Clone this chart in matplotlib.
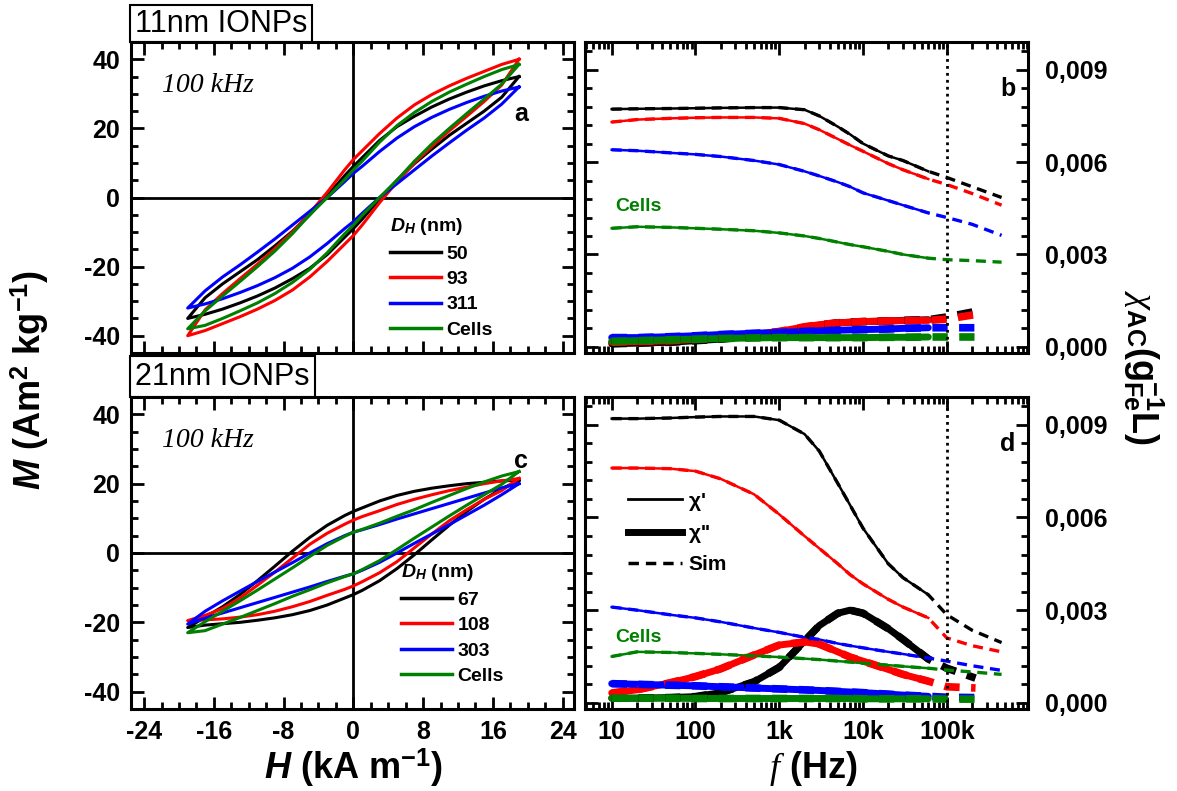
import numpy as np
import matplotlib
matplotlib.use("Agg")
import matplotlib.pyplot as plt
from matplotlib.ticker import FixedLocator, MultipleLocator, FuncFormatter, LogLocator, NullFormatter
from matplotlib.lines import Line2D
from matplotlib.patches import Rectangle

plt.rcParams["font.family"] = ["Liberation Sans", "DejaVu Sans"]
plt.rcParams["axes.unicode_minus"] = False
plt.rcParams["mathtext.fontset"] = "custom"
plt.rcParams["mathtext.rm"] = "Liberation Sans"
plt.rcParams["mathtext.bf"] = "Liberation Sans:bold"
plt.rcParams["mathtext.it"] = "Liberation Serif:italic"
plt.rcParams["mathtext.bfit"] = "Liberation Sans:italic:bold"
plt.rcParams["mathtext.sf"] = "Liberation Sans"

BLACK, RED, BLUE, GREEN = "black", "#ff0000", "#0000ff", "#008000"

# ---------------- hysteresis loops (H in kA/m, M in Am2/kg) ----------------
H_GRID = [19, 17, 15, 13, 11, 9, 7, 5, 3, 1, 0, -1, -3, -5, -7, -9, -11, -13, -15, -17, -19]

# 11 nm IONPs: upper (field going down) and lower (field going up) branches on H_GRID
a_labels = ["50", "93", "311", "Cells"]
a_black_up = [35, 33.8, 32.3, 30.5, 28.5, 26.2, 23.5, 20.5, 16.5, 11.5, 9, 6.3, 0.5, -5, -9.8,
              -14, -18, -21.5, -25, -29, -35]
a_black_lo = [35, 29, 25, 21.5, 18, 14, 9.8, 5, -0.5, -6.3, -9, -11.5, -16.5, -20.5, -23.5,
              -26.2, -28.5, -30.5, -32.3, -33.8, -35]
a_red_up = [40, 38.5, 36.5, 34.5, 32.3, 29.8, 26.8, 23, 18.5, 13.5, 11, 8, 1.5, -4.5, -10,
            -14.8, -19.3, -23.5, -27.8, -32.5, -40]
a_red_lo = [40, 32.5, 27.8, 23.5, 19.3, 14.8, 10, 4.5, -1.5, -8, -11, -13.5, -18.5, -23, -26.8,
            -29.8, -32.3, -34.5, -36.5, -38.5, -40]
a_blue_up = [32, 30.8, 29.3, 27.5, 25.5, 23.2, 20.5, 17.2, 13.3, 9, 7, 4.6, 0, -4, -8,
             -12, -15.8, -19.5, -23, -27, -32]
a_blue_lo = [32, 27, 23, 19.5, 15.8, 12, 8, 4, 0, -4.6, -7, -9, -13.3, -17.2, -20.5,
             -23.2, -25.5, -27.5, -29.3, -30.8, -32]
a_green_up = [38.5, 37, 35, 32.8, 30.5, 27.8, 24.6, 20.8, 16, 10.5, 8, 5.2, 0, -5, -10.5,
              -15.5, -20, -24.3, -28.5, -32.8, -38]
a_green_lo = [38.5, 32.8, 28.5, 24.3, 20, 15.5, 10.5, 5, 0, -5.2, -8, -10.5, -16, -20.8, -24.6,
              -27.8, -30.5, -32.8, -35, -37, -38]

# 21 nm IONPs
c_labels = ["67", "108", "303", "Cells"]
c_black_up = [21, 20.8, 20.4, 20, 19.4, 18.7, 17.8, 16.6, 15, 13, 12, 10.8, 8, 4.5, 0.5,
              -3.8, -8, -12, -15.5, -18.5, -21.5]
c_black_lo = [21, 18.5, 15.5, 12, 8, 3.8, -0.5, -4.5, -8, -10.8, -12, -13, -15, -16.6, -17.8,
              -18.7, -19.4, -20, -20.4, -20.8, -21.5]
c_red_up = [21.5, 20.8, 20, 19, 18, 16.8, 15.5, 14, 12.2, 10.5, 9.5, 8.3, 5.7, 2.5, -1.5,
            -5.5, -9.3, -13, -16, -18, -19.5]
c_red_lo = [21.5, 18, 15.5, 12.5, 9.3, 5.5, 1.5, -2.5, -5.7, -8.3, -9.5, -10.5, -12.2, -14,
            -15.5, -16.8, -17.8, -18.5, -19, -19.3, -19.5]
c_blue_up = [20, 18.8, 17.3, 15.8, 14.3, 12.8, 11.3, 9.8, 8.2, 6.7, 6, 5, 2.7, 0, -2.8,
             -5.5, -8.2, -11, -13.8, -16.8, -20.5]
c_blue_lo = [20, 16.8, 13.8, 11, 8.2, 5.5, 2.8, 0, -2.7, -5, -6, -6.7, -8.2, -9.8, -11.3,
             -12.8, -14.3, -15.8, -17.3, -18.8, -20.5]
c_green_up = [23.5, 22.2, 20.5, 18.6, 16.6, 14.6, 12.5, 10.6, 8.6, 6.8, 6, 4.8, 2.2, -1, -4.3,
              -7.5, -10.7, -13.8, -16.8, -19.8, -23]
c_green_lo = [23.5, 19.8, 16.8, 13.8, 10.7, 7.5, 4.3, 1, -2.2, -4.8, -6, -6.8, -8.6, -10.6,
              -12.5, -14.6, -16.6, -18.6, -20.5, -22.4, -23]

# ---------------- AC susceptibility (units of 1e-3 g_Fe^-1 L) ----------------
F_DATA = [10, 20, 50, 100, 200, 500, 1e3, 2e3, 3e3, 5e3, 7e3, 1e4, 2e4, 3e4, 6e4]
F_EXT_RE = [1e5, 2e5, 4.5e5]   # simulation continues beyond measured range
F_EXT_IM = [1e5, 2.2e5]

b_black_re = [7.72, 7.73, 7.74, 7.75, 7.76, 7.77, 7.77, 7.7, 7.5, 7.15, 6.9, 6.6, 6.2, 6.05, 5.7]
b_black_re_ext = [5.5, 5.2, 4.85]
b_red_re = [7.3, 7.38, 7.42, 7.44, 7.45, 7.45, 7.42, 7.25, 7.05, 6.75, 6.55, 6.35, 5.95, 5.75, 5.45]
b_red_re_ext = [5.27, 4.98, 4.6]
b_blue_re = [6.4, 6.37, 6.3, 6.25, 6.18, 6.05, 5.92, 5.7, 5.55, 5.35, 5.2, 5.0, 4.75, 4.6, 4.35]
b_blue_re_ext = [4.2, 3.98, 3.62]
b_green_re = [3.85, 3.9, 3.88, 3.85, 3.82, 3.77, 3.7, 3.6, 3.52, 3.4, 3.32, 3.25, 3.1, 3.0, 2.88]
b_green_re_ext = [2.83, 2.8, 2.75]
b_black_im = [0.1, 0.12, 0.15, 0.2, 0.25, 0.35, 0.45, 0.6, 0.7, 0.78, 0.8, 0.82, 0.84, 0.86, 0.88]
b_black_im_ext = [0.97, 1.15]
b_red_im = [0.15, 0.17, 0.2, 0.24, 0.3, 0.4, 0.5, 0.65, 0.72, 0.78, 0.8, 0.82, 0.84, 0.85, 0.86]
b_red_im_ext = [0.9, 1.05]
b_blue_im = [0.3, 0.3, 0.33, 0.36, 0.4, 0.44, 0.47, 0.5, 0.52, 0.54, 0.55, 0.56, 0.58, 0.6, 0.62]
b_blue_im_ext = [0.62, 0.62]
b_green_im = [0.18, 0.2, 0.23, 0.25, 0.27, 0.29, 0.3, 0.3, 0.3, 0.3, 0.3, 0.3, 0.31, 0.31, 0.32]
b_green_im_ext = [0.32, 0.32]

d_black_re = [9.2, 9.2, 9.22, 9.25, 9.27, 9.27, 9.15, 8.7, 8.15, 7.1, 6.4, 5.65, 4.5, 4.05, 3.5]
d_black_re_ext = [2.85, 2.35, 1.95]
d_red_re = [7.6, 7.6, 7.58, 7.5, 7.25, 6.75, 6.1, 5.4, 5.0, 4.5, 4.15, 3.85, 3.35, 3.1, 2.75]
d_red_re_ext = [2.1, 1.85, 1.65]
d_blue_re = [3.1, 3.0, 2.85, 2.75, 2.62, 2.42, 2.28, 2.12, 2.05, 1.92, 1.85, 1.78, 1.65, 1.58, 1.45]
d_blue_re_ext = [1.35, 1.2, 1.05]
d_green_re = [1.5, 1.65, 1.63, 1.6, 1.57, 1.52, 1.48, 1.43, 1.4, 1.35, 1.32, 1.28, 1.22, 1.18, 1.12]
d_green_re_ext = [1.06, 1.0, 0.92]
d_black_im = [0.15, 0.15, 0.17, 0.2, 0.33, 0.68, 1.15, 2.0, 2.5, 2.9, 3.0, 2.9, 2.4, 2.05, 1.42]
d_black_im_ext = [1.12, 0.8]
d_red_im = [0.32, 0.42, 0.65, 0.85, 1.1, 1.55, 1.87, 1.97, 1.9, 1.65, 1.48, 1.35, 1.08, 0.92, 0.7]
d_red_im_ext = [0.52, 0.48]
d_blue_im = [0.62, 0.6, 0.57, 0.55, 0.52, 0.48, 0.45, 0.42, 0.4, 0.37, 0.35, 0.33, 0.28, 0.25, 0.21]
d_blue_im_ext = [0.18, 0.17]
d_green_im = [0.15, 0.15, 0.15, 0.14, 0.14, 0.14, 0.14, 0.14, 0.14, 0.14, 0.14, 0.13, 0.13, 0.13, 0.13]
d_green_im_ext = [0.12, 0.12]

TICK_FS = 18
LABEL_FS = 26

fig = plt.figure(figsize=(11.77, 7.91), dpi=100)
W, Hh = 1177, 791


def rect(x0, y0, x1, y1):
    return [x0 / W, 1 - y1 / Hh, (x1 - x0) / W, (y1 - y0) / Hh]


def style_axes(ax):
    for s in ax.spines.values():
        s.set_linewidth(2.2)
    ax.tick_params(which="both", direction="in", top=True, right=True, width=2,
                   labelsize=TICK_FS, pad=8)
    ax.tick_params(which="major", length=9)
    ax.tick_params(which="minor", length=5)


def bold_ticks(ax):
    for t in ax.get_xticklabels() + ax.get_yticklabels():
        t.set_fontweight("bold")


def loop_panel(ax, loops, labels, leg_anchor, letter, letter_y):
    ax.axhline(0, color="black", lw=2, zorder=1)
    ax.axvline(0, color="black", lw=2, zorder=1)
    for (col, up, lo), lab in zip(loops, labels):
        hx = H_GRID + H_GRID[::-1]
        my = up + lo[::-1]
        ax.plot(hx, my, color=col, lw=2.2, label=lab, zorder=3, solid_joinstyle="round")
    ax.set_xlim(-25.5, 25.3)
    ax.set_ylim(-45, 45)
    ax.xaxis.set_major_locator(MultipleLocator(8))
    ax.xaxis.set_minor_locator(MultipleLocator(2))
    ax.yaxis.set_major_locator(MultipleLocator(20))
    ax.yaxis.set_minor_locator(MultipleLocator(5))
    style_axes(ax)
    leg = ax.legend(loc="upper left", bbox_to_anchor=leg_anchor, frameon=False,
                    title=r"$\mathbfit{D}_{\mathbfit{H}}$ (nm)",
                    title_fontproperties={"size": 14, "weight": "bold"},
                    prop={"size": 14, "weight": "bold"}, handlelength=2.6, handletextpad=0.3,
                    labelspacing=0.4, borderpad=0, borderaxespad=0, alignment="left")
    for ln in leg.get_lines():
        ln.set_linewidth(2.5)
    ax.text(0.07, 0.86, "100 kHz", transform=ax.transAxes, fontsize=20,
            family="Liberation Serif", style="italic", va="center")
    ax.text(0.88, letter_y, letter, transform=ax.transAxes, fontsize=18,
            fontweight="bold", ha="center", va="center")


def chi_panel(ax, curves, letter, cells_y):
    for col, re, re_ext, im, im_ext in curves:
        ax.plot(F_DATA, re, color=col, lw=1.8, zorder=3)
        ax.plot(F_DATA + F_EXT_RE, re + re_ext, color=col, lw=2.4, ls=(0, (3, 2)), zorder=4)
        ax.plot(F_DATA, im, color=col, lw=5, solid_capstyle="round", zorder=3)
        ax.plot(F_DATA + F_EXT_IM, im + im_ext, color=col, lw=5.5, ls=(0, (2, 1.5)),
                zorder=4)
    ax.axvline(1e5, color="black", lw=2, ls=(0, (1, 1.5)), zorder=5)
    ax.set_xscale("log")
    ax.set_xlim(4.8, 9.3e5)
    ax.set_ylim(-0.2, 9.9)
    ax.xaxis.set_major_locator(FixedLocator([10, 100, 1e3, 1e4, 1e5]))
    ax.set_xticklabels(["10", "100", "1k", "10k", "100k"])
    ax.xaxis.set_minor_locator(LogLocator(base=10, subs=np.arange(2, 10)))
    ax.xaxis.set_minor_formatter(NullFormatter())
    ax.yaxis.set_major_locator(FixedLocator([0, 3, 6, 9]))
    ax.yaxis.set_minor_locator(MultipleLocator(0.6))
    ax.yaxis.set_major_formatter(FuncFormatter(lambda v, p: f"{v / 1000:.3f}".replace(".", ",")))
    style_axes(ax)
    ax.tick_params(axis="y", labelleft=False, labelright=True, pad=12)
    ax.text(0.955, 0.85, letter, transform=ax.transAxes, fontsize=18,
            fontweight="bold", ha="center", va="center")
    ax.text(0.12, cells_y, "Cells", transform=ax.transAxes, fontsize=14,
            fontweight="bold", color=GREEN, ha="center", va="center")


ax_a = fig.add_axes(rect(131, 42, 574, 353))
ax_b = fig.add_axes(rect(585, 42, 1028, 353))
ax_c = fig.add_axes(rect(131, 397, 574, 709))
ax_d = fig.add_axes(rect(585, 397, 1028, 709))

loop_panel(ax_a, [(BLACK, a_black_up, a_black_lo), (RED, a_red_up, a_red_lo),
                  (BLUE, a_blue_up, a_blue_lo), (GREEN, a_green_up, a_green_lo)],
           a_labels, (0.585, 0.44), "a", 0.77)
loop_panel(ax_c, [(BLACK, c_black_up, c_black_lo), (RED, c_red_up, c_red_lo),
                  (BLUE, c_blue_up, c_blue_lo), (GREEN, c_green_up, c_green_lo)],
           c_labels, (0.61, 0.47), "c", 0.795)
ax_a.tick_params(axis="x", labelbottom=False)

chi_panel(ax_b, [(BLACK, b_black_re, b_black_re_ext, b_black_im, b_black_im_ext),
                 (RED, b_red_re, b_red_re_ext, b_red_im, b_red_im_ext),
                 (BLUE, b_blue_re, b_blue_re_ext, b_blue_im, b_blue_im_ext),
                 (GREEN, b_green_re, b_green_re_ext, b_green_im, b_green_im_ext)],
          "b", 0.47)
chi_panel(ax_d, [(BLACK, d_black_re, d_black_re_ext, d_black_im, d_black_im_ext),
                 (RED, d_red_re, d_red_re_ext, d_red_im, d_red_im_ext),
                 (BLUE, d_blue_re, d_blue_re_ext, d_blue_im, d_blue_im_ext),
                 (GREEN, d_green_re, d_green_re_ext, d_green_im, d_green_im_ext)],
          "d", 0.23)
ax_b.tick_params(axis="x", labelbottom=False)

for ax in (ax_a, ax_b, ax_c, ax_d):
    bold_ticks(ax)

handles = [Line2D([], [], color="black", lw=2),
           Line2D([], [], color="black", lw=5),
           Line2D([], [], color="black", lw=2.5, ls=(0, (3, 2)))]
ax_d.legend(handles, [r"$\mathbf{\chi}$'", r"$\mathbf{\chi}$''", "Sim"], loc="upper left",
            bbox_to_anchor=(0.097, 0.7), frameon=False, prop={"size": 15, "weight": "bold"},
            handlelength=2.6, handletextpad=0.3, labelspacing=0.5,
            borderpad=0, borderaxespad=0)

# sample boxes
for (x0, y0, x1, y1), txt in [((130, 5, 312, 42), "11nm IONPs"),
                              ((130, 356, 315, 397), "21nm IONPs")]:
    fig.patches.append(Rectangle((x0 / W, 1 - y1 / Hh), (x1 - x0) / W, (y1 - y0) / Hh,
                                 transform=fig.transFigure, fill=False, lw=1.5,
                                 edgecolor="black"))
    fig.text((x0 + x1) / 2 / W, 1 - (y0 + y1) / 2 / Hh, txt, fontsize=22,
             ha="center", va="center")

fig.text(30 / W, 1 - 380 / Hh, r"$\mathbfit{M}$ (Am$^{\mathbf{2}}$ kg$^{\mathbf{-1}}$)",
         rotation=90, fontsize=LABEL_FS, fontweight="bold", ha="center", va="center")
fig.text(353 / W, 1 - 768 / Hh, r"$\mathbfit{H}$ (kA m$^{\mathbf{-1}}$)",
         fontsize=LABEL_FS, fontweight="bold", ha="center", va="center")
fig.text(813 / W, 1 - 768 / Hh, r"$\mathit{f}$ (Hz)",
         fontsize=LABEL_FS, fontweight="bold", ha="center", va="center")
fig.text(1143 / W, 1 - 368 / Hh,
         r"$\mathit{\chi}_{\mathbf{AC}}$(g$_{\mathbf{Fe}}^{\mathbf{-1}}$L)",
         rotation=270, fontsize=LABEL_FS, fontweight="bold", ha="center", va="center")

fig.savefig("out.png", dpi=100)
